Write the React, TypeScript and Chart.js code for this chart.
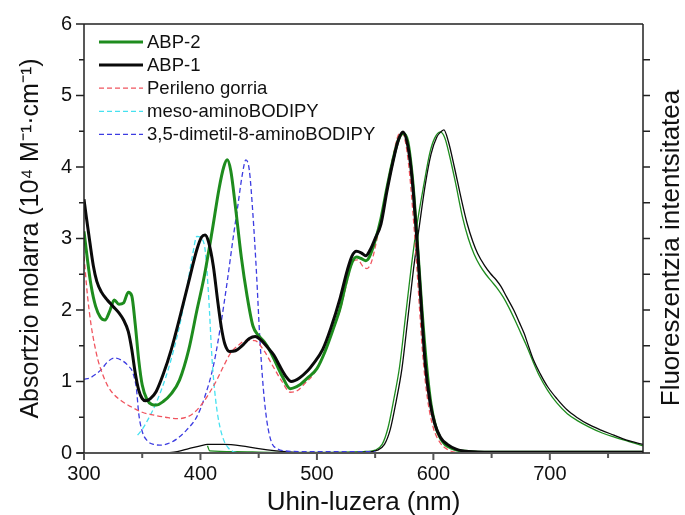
import React, { useEffect, useRef } from 'react';
import { Chart, registerables } from 'chart.js';

Chart.register(...registerables);

const FONT = '"Liberation Sans", Arial, Helvetica, sans-serif';

const xTicks = [300, 400, 500, 600, 700];
const yTicks = [0, 1, 2, 3, 4, 5, 6];
const legendLabels = ['ABP-2', 'ABP-1', 'Perileno gorria', 'meso-aminoBODIPY', '3,5-dimetil-8-aminoBODIPY'];

// ABP-2 absorption
const abp2Nm = [300, 303, 306, 310, 314, 318, 322, 326, 330, 334, 338, 341, 344, 347, 350, 354, 358, 362, 368, 375, 382, 390, 397, 403, 410, 416, 420, 423, 426, 430, 435, 440, 445, 450, 455, 460, 465, 470, 477, 485, 492, 500, 507, 515, 520, 525, 530, 534, 538, 542, 545, 550, 555, 560, 565, 570, 574, 578, 582, 586, 590, 594, 598, 602, 606, 610, 615, 620, 630, 640, 660, 700, 740, 780];
const abp2Abs = [3.1, 2.7, 2.35, 2.05, 1.9, 1.86, 1.98, 2.14, 2.08, 2.1, 2.25, 2.2, 1.8, 1.3, 0.95, 0.75, 0.68, 0.67, 0.72, 0.83, 1.02, 1.45, 2.0, 2.45, 3.1, 3.7, 4.0, 4.1, 3.95, 3.45, 2.75, 2.2, 1.78, 1.64, 1.55, 1.42, 1.25, 1.08, 0.9, 0.95, 1.05, 1.18, 1.42, 1.78, 2.03, 2.38, 2.66, 2.74, 2.72, 2.69, 2.74, 2.97, 3.28, 3.7, 4.08, 4.38, 4.47, 4.36, 3.85, 3.0, 2.05, 1.25, 0.68, 0.37, 0.21, 0.12, 0.07, 0.04, 0.02, 0.01, 0.01, 0.01, 0.01, 0.01];

// ABP-1 absorption
const abp1Nm = [300, 302, 305, 308, 311, 315, 320, 325, 330, 334, 338, 341, 344, 347, 350, 353, 357, 362, 368, 375, 382, 390, 397, 401, 404, 407, 411, 415, 418, 421, 425, 430, 437, 442, 447, 452, 458, 463, 468, 473, 478, 485, 492, 497, 505, 512, 520, 526, 530, 534, 538, 542, 546, 550, 555, 560, 565, 570, 574, 578, 581, 583, 586, 589, 593, 597, 601, 606, 612, 620, 630, 650, 700, 780];
const abp1Abs = [3.55, 3.3, 2.95, 2.62, 2.4, 2.25, 2.14, 2.05, 1.96, 1.86, 1.7, 1.45, 1.12, 0.88, 0.76, 0.73, 0.76, 0.86, 1.1, 1.45, 1.88, 2.4, 2.85, 3.02, 3.05, 2.95, 2.62, 2.1, 1.75, 1.52, 1.42, 1.43, 1.52, 1.6, 1.63, 1.58, 1.47, 1.37, 1.22, 1.08, 1.0, 1.05, 1.15, 1.25, 1.45, 1.75, 2.17, 2.55, 2.75, 2.82, 2.8, 2.76, 2.85, 3.0, 3.2, 3.65, 4.05, 4.38, 4.49, 4.3, 3.95, 3.6, 2.95, 2.2, 1.25, 0.72, 0.42, 0.22, 0.12, 0.05, 0.02, 0.01, 0.01, 0.01];

// Perileno gorria
const perNm = [300, 303, 306, 309, 312, 316, 320, 325, 332, 340, 350, 360, 370, 380, 388, 395, 402, 408, 414, 420, 426, 432, 440, 447, 455, 462, 470, 477, 483, 490, 497, 505, 513, 520, 526, 531, 535, 540, 543, 547, 551, 556, 561, 566, 570, 573, 576, 579, 582, 585, 588, 591, 595, 600, 606, 612, 620, 650];
const perAbs = [2.75, 2.2, 1.8, 1.52, 1.3, 1.1, 0.95, 0.83, 0.73, 0.65, 0.57, 0.53, 0.5, 0.48, 0.5, 0.57, 0.7, 0.85, 1.02, 1.22, 1.4, 1.5, 1.58, 1.57, 1.42, 1.22, 1.0, 0.85, 0.87, 0.98, 1.1, 1.35, 1.7, 2.0, 2.4, 2.68, 2.7, 2.6, 2.58, 2.68, 2.95, 3.35, 3.8, 4.2, 4.45, 4.48, 4.35, 4.0, 3.45, 2.8, 2.05, 1.35, 0.75, 0.35, 0.14, 0.05, 0.01, 0.0];

// meso-aminoBODIPY
const mesoNm = [346, 350, 356, 362, 370, 377, 383, 388, 393, 397, 401, 404, 407, 410, 413, 416, 420, 424, 428, 435];
const mesoAbs = [0.25, 0.33, 0.5, 0.7, 1.05, 1.44, 1.85, 2.28, 2.75, 3.03, 3.0, 2.84, 2.2, 1.3, 0.75, 0.42, 0.18, 0.07, 0.02, 0.0];

// 3,5-dimetil-8-aminoBODIPY
const dimNm = [300, 305, 310, 315, 320, 326, 332, 338, 342, 345, 347, 350, 355, 360, 365, 372, 380, 388, 397, 404, 411, 417, 423, 428, 432, 436, 439, 442, 445, 448, 451, 454, 457, 461, 466, 472, 490, 520, 550];
const dimAbs = [1.03, 1.05, 1.1, 1.17, 1.27, 1.33, 1.3, 1.22, 1.12, 0.9, 0.55, 0.3, 0.16, 0.12, 0.11, 0.13, 0.2, 0.32, 0.51, 0.8, 1.21, 1.75, 2.4, 3.0, 3.45, 3.9, 4.1, 3.95, 3.35, 2.55, 1.6, 0.9, 0.45, 0.15, 0.06, 0.03, 0.02, 0.02, 0.02];

// ABP-1 fluorescence (scaled)
const em1Nm = [370, 380, 390, 400, 406, 420, 435, 450, 465, 480, 500, 540, 552, 558, 563, 568, 573, 578, 583, 588, 593, 598, 603, 607, 609, 613, 618, 624, 629, 634, 638, 644, 649, 654, 658, 663, 669, 674, 678, 682, 686, 692, 698, 706, 715, 724, 732, 744, 755, 766, 780];
const em1Int = [0.0, 0.02, 0.06, 0.1, 0.12, 0.12, 0.1, 0.06, 0.03, 0.01, 0.0, 0.01, 0.04, 0.12, 0.33, 0.72, 1.18, 1.87, 2.58, 3.18, 3.75, 4.18, 4.42, 4.5, 4.52, 4.35, 4.0, 3.55, 3.21, 2.95, 2.79, 2.62, 2.51, 2.42, 2.33, 2.18, 2.0, 1.82, 1.67, 1.48, 1.3, 1.1, 0.93, 0.76, 0.6, 0.49, 0.41, 0.32, 0.25, 0.18, 0.12];

// ABP-2 fluorescence (scaled)
const em2Nm = [406, 408, 430, 460, 500, 540, 550, 556, 561, 566, 571, 576, 581, 586, 592, 597, 601, 606, 610, 614, 619, 625, 630, 635, 640, 645, 650, 655, 660, 665, 670, 675, 680, 685, 691, 698, 706, 715, 724, 733, 745, 756, 768, 780];
const em2Int = [0.1, 0.03, 0.02, 0.01, 0.01, 0.02, 0.04, 0.12, 0.35, 0.75, 1.21, 1.9, 2.6, 3.2, 3.77, 4.2, 4.4, 4.49, 4.4, 4.15, 3.78, 3.3, 3.0, 2.78, 2.62, 2.5, 2.4, 2.3, 2.18, 2.03, 1.86, 1.68, 1.5, 1.3, 1.08, 0.88, 0.7, 0.55, 0.45, 0.37, 0.28, 0.22, 0.16, 0.1];

const GREEN = '#1e8c1e';
const BLACK = '#0a0a0a';
const RED = 'rgb(240,85,95)';
const CYAN = 'rgb(70,225,240)';
const BLUE = 'rgb(60,60,225)';

const pts = (xs: number[], ys: number[]) => xs.map((x, i) => ({ x, y: ys[i] }));

const legendStyles = [
  { color: GREEN, width: 3, dash: [] as number[] },
  { color: BLACK, width: 3, dash: [] as number[] },
  { color: RED, width: 1.3, dash: [5, 3] },
  { color: CYAN, width: 1.3, dash: [5, 3] },
  { color: BLUE, width: 1.3, dash: [5, 3] },
];

const framePlugin = {
  id: 'frame',
  afterDraw(chart: any) {
    const { ctx, chartArea, scales } = chart;
    const { left, right, top, bottom } = chartArea;
    const x = scales.x;
    const y = scales.y;
    ctx.save();
    ctx.setLineDash([]);
    // bottom axis (grey, a bit heavier)
    ctx.strokeStyle = '#555';
    ctx.lineWidth = 2;
    ctx.beginPath();
    ctx.moveTo(left - 7, bottom);
    ctx.lineTo(right + 7, bottom);
    for (let v = 300; v <= 780; v += 50) {
      const px = x.getPixelForValue(v);
      const len = v % 100 === 0 ? 7 : 5;
      ctx.moveTo(px, bottom);
      ctx.lineTo(px, bottom + len);
    }
    ctx.stroke();

    ctx.strokeStyle = '#222';
    ctx.lineWidth = 1.5;
    ctx.beginPath();
    ctx.moveTo(left, bottom);
    ctx.lineTo(left, top);
    ctx.lineTo(right, top);
    ctx.moveTo(right, top);
    ctx.lineTo(right, bottom);
    for (let v = 0; v <= 6.001; v += 0.5) {
      const py = y.getPixelForValue(v);
      const major = Math.abs(v - Math.round(v)) < 1e-6;
      ctx.moveTo(left, py);
      ctx.lineTo(left - (major ? 8 : 5), py);
      if (v > 0 && v < 6) {
        ctx.moveTo(right, py);
        ctx.lineTo(right + 7, py);
      }
    }
    ctx.stroke();

    // legend
    legendLabels.forEach((label, i) => {
      const ly = 42 + i * 23.1;
      const st = legendStyles[i];
      ctx.beginPath();
      ctx.strokeStyle = st.color;
      ctx.lineWidth = st.width;
      ctx.setLineDash(st.dash);
      ctx.moveTo(99, ly);
      ctx.lineTo(143, ly);
      ctx.stroke();
      ctx.setLineDash([]);
      ctx.fillStyle = '#111';
      ctx.font = `18.5px ${FONT}`;
      ctx.textAlign = 'left';
      ctx.textBaseline = 'middle';
      ctx.fillText(label, 147, ly + 1);
    });

    // right axis title
    ctx.translate(672, 248);
    ctx.rotate(-Math.PI / 2);
    ctx.fillStyle = '#111';
    ctx.font = `26px ${FONT}`;
    ctx.textAlign = 'center';
    ctx.textBaseline = 'middle';
    ctx.fillText('Fluoreszentzia intentsitatea', 0, 0);
    ctx.restore();
  },
};

export default function App() {
  const ref = useRef<HTMLCanvasElement | null>(null);
  useEffect(() => {
    if (!ref.current) return;
    const common = { pointRadius: 0, fill: false, cubicInterpolationMode: 'monotone' as const };
    const chart = new Chart(ref.current, {
      type: 'line',
      data: {
        datasets: [
          { ...common, label: 'ABP-1', data: pts(abp1Nm, abp1Abs), borderColor: BLACK, borderWidth: 3 },
          { ...common, label: 'ABP-2', data: pts(abp2Nm, abp2Abs), borderColor: GREEN, borderWidth: 3 },
          { ...common, label: 'Perileno gorria', data: pts(perNm, perAbs), borderColor: RED, borderWidth: 1.3, borderDash: [5, 3] },
          { ...common, label: 'meso-aminoBODIPY', data: pts(mesoNm, mesoAbs), borderColor: CYAN, borderWidth: 1.3, borderDash: [5, 3] },
          { ...common, label: '3,5-dimetil-8-aminoBODIPY', data: pts(dimNm, dimAbs), borderColor: BLUE, borderWidth: 1.3, borderDash: [5, 3] },
          { ...common, label: 'ABP-1 fluoreszentzia', data: pts(em1Nm, em1Int), borderColor: BLACK, borderWidth: 1.3 },
          { ...common, label: 'ABP-2 fluoreszentzia', data: pts(em2Nm, em2Int), borderColor: GREEN, borderWidth: 1.3 },
        ],
      },
      options: {
        responsive: false,
        animation: false,
        maintainAspectRatio: false,
        layout: { padding: { top: 24, left: 0, right: 0, bottom: 0 } },
        plugins: { legend: { display: false }, tooltip: { enabled: false }, title: { display: false } },
        scales: {
          x: {
            type: 'linear',
            min: 300,
            max: 780,
            grid: { display: false, drawTicks: false },
            border: { display: false },
            ticks: {
              stepSize: 100,
              includeBounds: false,
              autoSkip: false,
              maxRotation: 0,
              padding: 9,
              color: '#111',
              font: { size: 20, family: FONT },
              callback: (v: any) => (xTicks.includes(Number(v)) ? String(v) : ''),
            },
            title: { display: true, text: 'Uhin-luzera (nm)', color: '#111', font: { size: 26, family: FONT }, padding: { top: 0, bottom: -3 } },
            afterFit: (s: any) => { s.height = 62; },
          },
          y: {
            type: 'linear',
            position: 'left',
            min: 0,
            max: 6,
            grid: { display: false, drawTicks: false },
            border: { display: false },
            ticks: {
              stepSize: 1,
              padding: 12,
              color: '#111',
              font: { size: 20, family: FONT },
              callback: (v: any) => (yTicks.includes(Number(v)) ? String(v) : ''),
            },
            title: { display: true, text: 'Absortzio molarra (10\u2074 M\u207B\u00B9\u00B7cm\u207B\u00B9)', color: '#111', font: { size: 25, family: FONT }, padding: { top: 16, bottom: 0 } },
            afterFit: (s: any) => { s.width = 84; },
          },
          y2: {
            type: 'linear',
            position: 'right',
            min: 0,
            max: 6,
            grid: { display: false, drawTicks: false },
            border: { display: false },
            ticks: { display: false },
            afterFit: (s: any) => { s.width = 42; },
          },
        },
      } as any,
      plugins: [framePlugin],
    });
    return () => chart.destroy();
  }, []);
  return (
    <div style={{ position: 'fixed', left: 0, top: 0, width: 685, height: 515, background: '#fff' }}>
      <canvas ref={ref} width={685} height={515} style={{ width: 685, height: 515 }} />
    </div>
  );
}
